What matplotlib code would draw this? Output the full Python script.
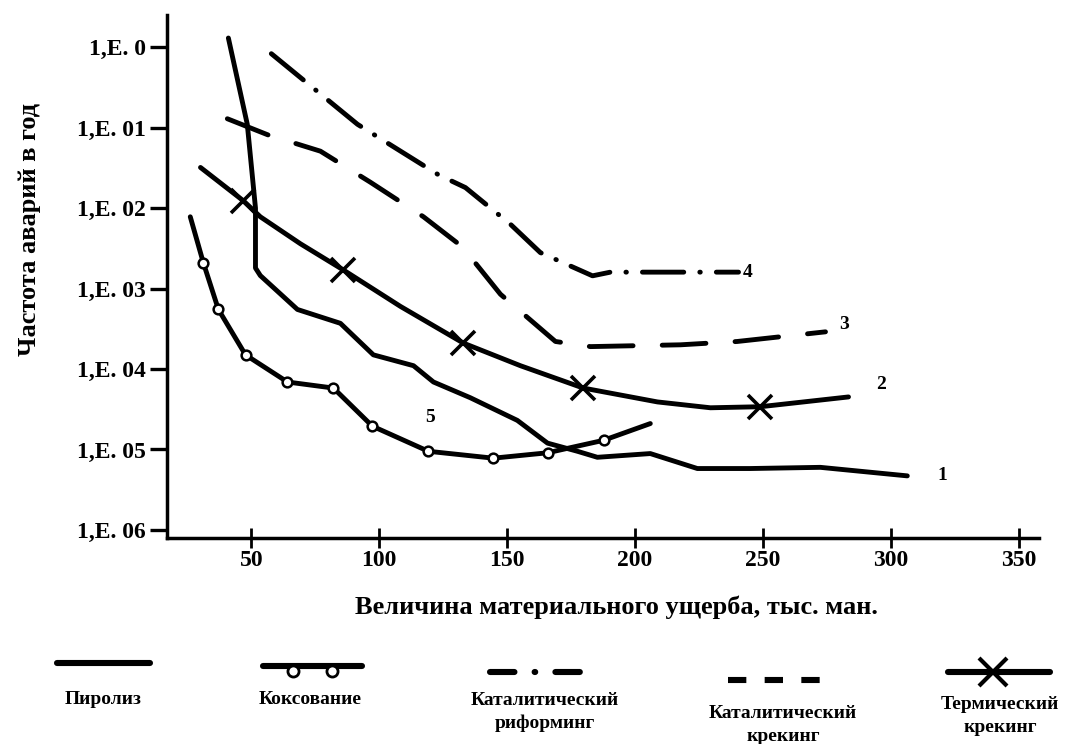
import matplotlib.pyplot as plt
from matplotlib.lines import Line2D

plt.rcParams['font.family'] = ['Liberation Serif', 'DejaVu Serif']
plt.rcParams['font.weight'] = 'bold'

# 1 - Пиролиз
pyro_x = [41, 48.4, 51.6, 51.6, 53.5, 68, 84.8, 97.7, 113.4, 121.2, 135.6, 154,
          165.8, 177.5, 185.3, 206, 224.4, 245, 272.5, 306.5]
pyro_y = [1.3, 0.11, 1e-2, 1.8e-3, 1.45e-3, 5.5e-4, 3.7e-4, 1.5e-4, 1.1e-4, 6.9e-5,
          4.4e-5, 2.3e-5, 1.2e-5, 9.5e-6, 8e-6, 8.9e-6, 5.8e-6, 5.8e-6, 6e-6, 4.7e-6]

# 2 - Термический крекинг
therm_x = [30.1, 46.9, 53.5, 69.2, 86, 108.3, 132.9, 155.2, 179.8, 208.8, 229.5, 249, 283.5]
therm_y = [3.2e-2, 1.23e-2, 7.8e-3, 3.6e-3, 1.7e-3, 6e-4, 2.1e-4, 1.1e-4, 5.8e-5,
           3.9e-5, 3.3e-5, 3.4e-5, 4.5e-5]
therm_marks = [1, 4, 6, 8, 11]

# 3 - Каталитический крекинг
crack_x = [40.6, 56.6, 77, 96.5, 117.3, 132.5, 147.4, 168.9, 182.6, 217.8, 240, 274.5]
crack_y = [0.129, 8.1e-2, 5.1e-2, 2.1e-2, 7.8e-3, 3.3e-3, 8.5e-4, 2.2e-4, 1.9e-4,
           2e-4, 2.2e-4, 2.9e-4]

# 4 - Каталитический риформинг
reform_x = [57.8, 91.5, 123.1, 133.7, 151.3, 163, 183.4, 190.4, 240.5]
reform_y = [0.83, 0.11, 2.6e-2, 1.8e-2, 6.3e-3, 2.8e-3, 1.44e-3, 1.6e-3, 1.6e-3]

# 5 - Коксование
coke_x = [26.1, 31.2, 37.1, 47.7, 64.1, 82.1, 97.3, 119.2, 144.6, 165.8, 187.7, 206]
coke_y = [7.8e-3, 2.1e-3, 5.5e-4, 1.5e-4, 6.9e-5, 5.8e-5, 1.95e-5, 9.5e-6, 7.8e-6,
          9.1e-6, 1.3e-5, 2.1e-5]

x_ticks = [50, 100, 150, 200, 250, 300, 350]
y_ticks = [1e0, 1e-1, 1e-2, 1e-3, 1e-4, 1e-5, 1e-6]
y_tick_labels = ['1,E. 0', '1,E. 01', '1,E. 02', '1,E. 03', '1,E. 04', '1,E. 05', '1,E. 06']

legend_names = ['Пиролиз', 'Коксование', 'Каталитический\nриформинг',
                'Каталитический\nкрекинг', 'Термический\nкрекинг']

W, H = 1077, 744
fig = plt.figure(figsize=(W / 100, H / 100), dpi=100)
ax = fig.add_axes([167 / W, 1 - 538 / H, (1039 - 167) / W, (538 - 15) / H])

lw = 3.5
ax.plot(pyro_x, pyro_y, color='black', lw=lw, solid_capstyle='round', solid_joinstyle='round')
ax.plot(therm_x, therm_y, color='black', lw=lw, solid_capstyle='round',
        marker='x', ms=17, mew=2.6, markevery=therm_marks)
ax.plot(crack_x, crack_y, color='black', lw=lw, dashes=(9, 6), dash_capstyle='round')
ax.plot(reform_x, reform_y, color='black', lw=lw, dashes=(8.5, 3.3, 0.1, 3.3),
        dash_capstyle='round')
ax.plot(coke_x, coke_y, color='black', lw=lw, solid_capstyle='round',
        marker='o', ms=7, mfc='white', mec='black', mew=1.8,
        markevery=list(range(1, len(coke_x) - 1)))

# curve numbers
lab_kw = dict(textcoords='offset points', fontsize=14, fontweight='bold', va='center')
ax.annotate('1', (pyro_x[-1], pyro_y[-1]), xytext=(22, 0), **lab_kw)
ax.annotate('2', (therm_x[-1], therm_y[-1]), xytext=(20, 9), **lab_kw)
ax.annotate('3', (crack_x[-1], crack_y[-1]), xytext=(10, 5), **lab_kw)
ax.annotate('4', (reform_x[-1], reform_y[-1]), xytext=(3, 0), **lab_kw)
ax.annotate('5', (coke_x[7], coke_y[7]), xytext=(-2, 24), **lab_kw)

ax.set_yscale('log')
ax.set_xlim(17, 358)
ax.set_ylim(10 ** -6.1, 10 ** 0.4)
ax.set_xticks(x_ticks)
ax.set_xticklabels([str(v) for v in x_ticks])
ax.set_yticks(y_ticks)
ax.set_yticklabels(y_tick_labels)
ax.minorticks_off()
ax.tick_params(axis='y', direction='out', length=12, width=2.4, labelsize=17, pad=3)
ax.tick_params(axis='x', direction='inout', length=14, width=2.0, labelsize=17, pad=2)
for s in ['top', 'right']:
    ax.spines[s].set_visible(False)
for s in ['left', 'bottom']:
    ax.spines[s].set_linewidth(2.5)

ax.set_xlabel('Величина материального ущерба, тыс. ман.', fontsize=19, fontweight='bold')
ax.xaxis.set_label_coords(0.515, -0.11)
ax.set_ylabel('Частота аварий в год', fontsize=19, fontweight='bold')
ax.yaxis.set_label_coords(-0.145, 0.59)


# legend row below the chart, drawn in figure coordinates
def fx(px):
    return px / W


def fy(py):
    return 1 - py / H


handle_px = [(57, 150, 663), (263, 362, 666), (490, 600, 672), (728, 836, 680), (948, 1050, 672)]
text_px = [(103, 700), (310, 700), (545, 712), (783, 725), (1000, 716)]
styles = [
    dict(),
    dict(),
    dict(dashes=(4, 3.3, 0.1, 3.3), dash_capstyle='round'),
    dict(dashes=(3, 3), dash_capstyle='butt'),
    dict(),
]
for (x0, x1, py), st in zip(handle_px, styles):
    fig.add_artist(Line2D([fx(x0), fx(x1)], [fy(py), fy(py)], transform=fig.transFigure,
                          color='black', lw=4.4, solid_capstyle='round', **st))
# circles on the coking swatch
x0, x1, py = handle_px[1]
fig.add_artist(Line2D([fx(x0 + 30), fx(x1 - 30)], [fy(py + 5)] * 2, transform=fig.transFigure,
                      ls='none', marker='o', ms=8, mfc='white', mec='black', mew=2))
# cross on the thermal cracking swatch
x0, x1, py = handle_px[4]
fig.add_artist(Line2D([fx((x0 + x1) / 2 - 6)], [fy(py)], transform=fig.transFigure,
                      ls='none', marker='x', ms=20, mew=3, color='black'))

for (tx, ty), name in zip(text_px, legend_names):
    fig.text(fx(tx), fy(ty), name, ha='center', va='center', fontsize=14,
             fontweight='bold', linespacing=1.45)

fig.savefig('out.png', dpi=100, facecolor='white')
